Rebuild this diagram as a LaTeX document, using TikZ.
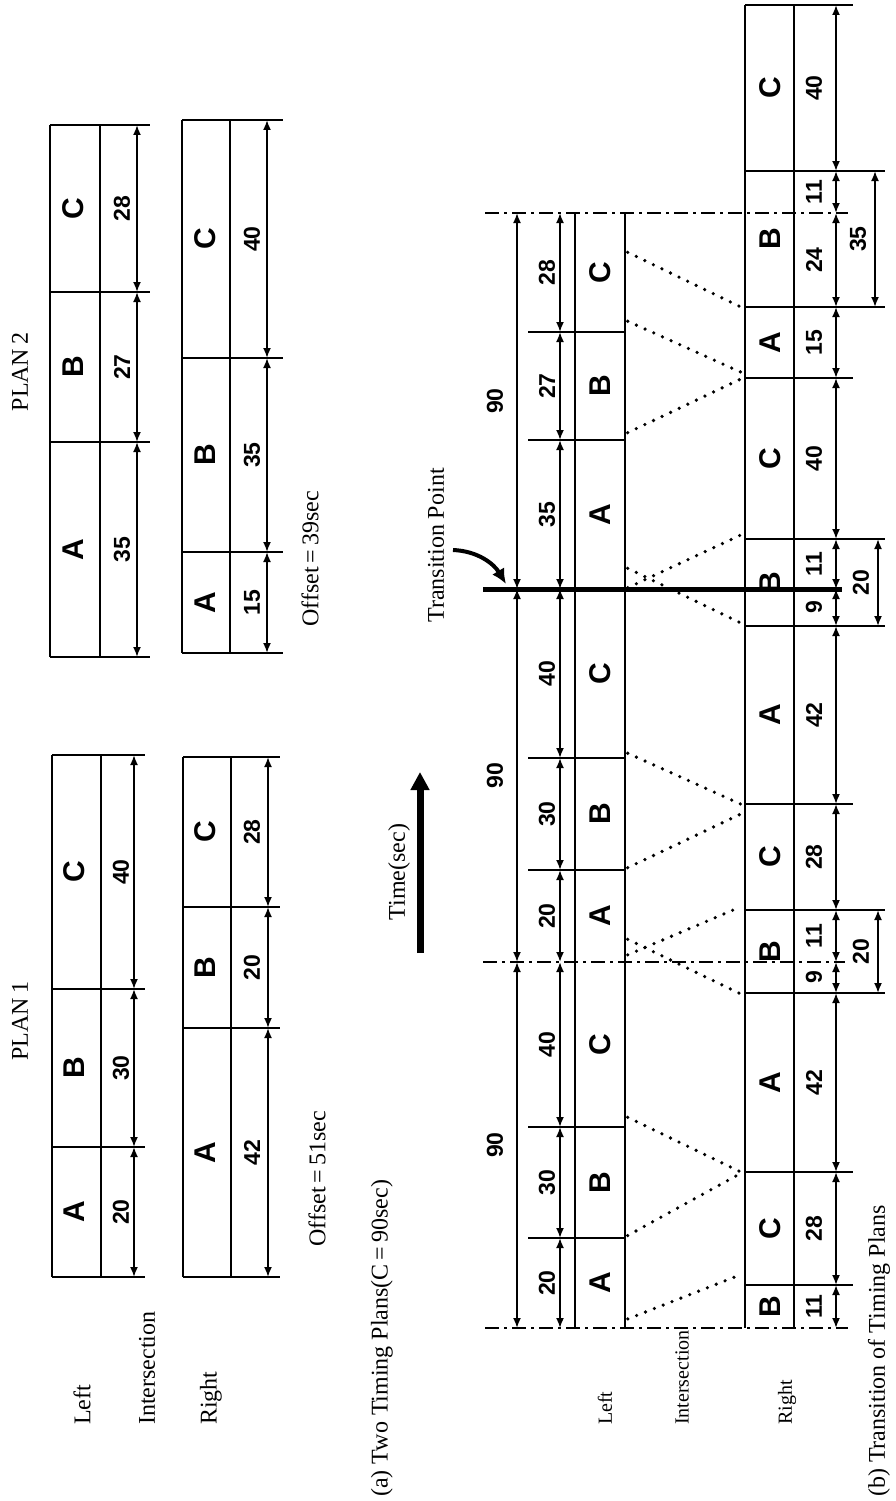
\documentclass[tikz,border=0pt]{standalone}
\usepackage{fontspec}
\setmainfont{Liberation Serif}
\setsansfont{Liberation Sans}
\usetikzlibrary{arrows.meta, positioning}

\begin{document}
\begin{tikzpicture}[x=1pt, y=1pt,
    barline/.style={line width=2.2pt},
    dimline/.style={line width=1.8pt, {Latex[length=10pt,width=8pt]}-{Latex[length=10pt,width=8pt]}},
    phase/.style={rotate=90, inner sep=0pt, font=\sffamily\bfseries\fontsize{30}{32}\selectfont},
    secs/.style={rotate=90, inner sep=0pt, font=\sffamily\bfseries\fontsize{23}{25}\selectfont},
    note/.style={rotate=90, inner sep=0pt, font=\fontsize{24}{26}\selectfont},
    smallnote/.style={note, font=\fontsize{20}{22}\selectfont},
    cycleline/.style={line width=2.5pt, dash pattern=on 14pt off 5pt on 3pt off 5pt},
    offsetline/.style={line width=3.6pt, line cap=round, dash pattern=on 0pt off 9.5pt, shorten <=3pt, shorten >=5pt}]

    \useasboundingbox (0,0) rectangle (896,-1501);

    % (a) two timing plans
    \node [note] (plantwo) at (20,-372) {PLAN\,2};
    \node [note] (planone) at (20,-1021) {PLAN\,1};

    % plan 2, left
    \draw [barline] (50,-125) -- (50,-657) (100,-125) -- (100,-657);
    \foreach \y in {125,292,442,657} \draw [barline] (50,-\y) -- (150,-\y);
    \foreach \a/\b/\ph/\s [count=\i] in {125/292/C/28, 292/442/B/27, 442/657/A/35} {
        \draw [dimline] (137,-\a) -- (137,-\b);
        \node [phase] (twoL\i) at (73,{-(\a+\b)/2}) {\ph};
        \node [secs] (twoLs\i) at (122,{-(\a+\b)/2}) {\s};
    }
    % plan 2, right
    \draw [barline] (182,-120) -- (182,-653) (230,-120) -- (230,-653);
    \foreach \y in {120,358,552,653} \draw [barline] (182,-\y) -- (283,-\y);
    \foreach \a/\b/\ph/\s [count=\i] in {120/358/C/40, 358/552/B/35, 552/653/A/15} {
        \draw [dimline] (267,-\a) -- (267,-\b);
        \node [phase] (twoR\i) at (205,{-(\a+\b)/2}) {\ph};
        \node [secs] (twoRs\i) at (252,{-(\a+\b)/2}) {\s};
    }
    % plan 1, left
    \draw [barline] (52,-755) -- (52,-1277) (101,-755) -- (101,-1277);
    \foreach \y in {755,989,1147,1277} \draw [barline] (52,-\y) -- (145,-\y);
    \foreach \a/\b/\ph/\s [count=\i] in {755/989/C/40, 989/1147/B/30, 1147/1277/A/20} {
        \draw [dimline] (134,-\a) -- (134,-\b);
        \node [phase] (oneL\i) at (74,{-(\a+\b)/2}) {\ph};
        \node [secs] (oneLs\i) at (121,{-(\a+\b)/2}) {\s};
    }
    % plan 1, right
    \draw [barline] (183,-757) -- (183,-1277) (231,-757) -- (231,-1277);
    \foreach \y in {757,907,1028,1277} \draw [barline] (183,-\y) -- (280,-\y);
    \foreach \a/\b/\ph/\s [count=\i] in {757/907/C/28, 907/1028/B/20, 1028/1277/A/42} {
        \draw [dimline] (268,-\a) -- (268,-\b);
        \node [phase] (oneR\i) at (205,{-(\a+\b)/2}) {\ph};
        \node [secs] (oneRs\i) at (252,{-(\a+\b)/2}) {\s};
    }

    \node [note, anchor=west] (aleft) at (82,-1425) {Left};
    \node [note, anchor=west] (ainter) at (147,-1425) {Intersection};
    \node [note, anchor=west] (aright) at (211,-1425) {Right};
    \node [note, anchor=west] (offtwo) at (310,-627) {Offset\,=\,39sec};
    \node [note, anchor=west] (offone) at (317,-1247) {Offset\,=\,51sec};
    \node [note, anchor=west] (capa) at (382,-1497) {(a) Two Timing Plans(C\,=\,90sec)};

    % time arrow and transition point
    \node [note] (time) at (399,-872) {Time(sec)};
    \coordinate (tfrom) at (420,-953);
    \coordinate (tto) at (420,-772);
    \draw [line width=7pt, -{Triangle[length=18pt,width=18pt]}] (tfrom) -- (tto);
    \node [note, anchor=west] (trans) at (436,-623) {Transition Point};
    \coordinate (cfrom) at (453,-550);
    \coordinate (cto) at (506,-584);
    \draw [line width=4pt, -{Latex[length=15pt,width=14pt]}] (cfrom) .. controls (478,-551) and (494,-564) .. (cto);

    % (b) transition of timing plans
    \draw [cycleline] (485,-1328) -- (848,-1328);
    \draw [cycleline] (483,-962) -- (845,-962);
    \draw [cycleline] (485,-213) -- (848,-213);
    \draw [line width=5pt] (483,-589) -- (842,-589);

    % left intersection
    \draw [barline] (575,-213) -- (575,-1328) (625,-213) -- (625,-1328);
    \foreach \y in {1238,1127,870,758,440,332} \draw [barline] (528,-\y) -- (625,-\y);
    \foreach \a/\b/\ph/\s [count=\i] in {1238/1328/A/20, 1127/1238/B/30, 962/1127/C/40,
        870/962/A/20, 758/870/B/30, 589/758/C/40, 440/589/A/35, 332/440/B/27, 213/332/C/28} {
        \draw [dimline] (560,-\a) -- (560,-\b);
        \node [phase] (bL\i) at (600,{-(\a+\b)/2}) {\ph};
        \node [secs] (bLs\i) at (547,{-(\a+\b)/2}) {\s};
    }
    \foreach \a/\b [count=\i] in {962/1328, 589/962, 213/589} {
        \draw [dimline] (517,-\a) -- (517,-\b);
        \node [secs] (cyc\i) at (495,{-(\a+\b)/2}) {90};
    }

    % right intersection
    \draw [barline] (745,-5) -- (745,-1328) (794,-5) -- (794,-1328);
    \foreach \y in {5,378,804,1172,1285} \draw [barline] (745,-\y) -- (853,-\y);
    \foreach \y in {171,307,539,626,910,993} \draw [barline] (745,-\y) -- (885,-\y);
    \foreach \a/\b/\ph [count=\i] in {1285/1328/B, 1172/1285/C, 993/1172/A, 910/993/B,
        804/910/C, 626/804/A, 539/626/B, 378/539/C, 307/378/A, 171/307/B, 5/171/C}
        \node [phase] (bR\i) at (770,{-(\a+\b)/2}) {\ph};
    \foreach \a/\b/\s [count=\i] in {1285/1328/11, 1172/1285/28, 993/1172/42, 962/993/9,
        910/962/11, 804/910/28, 626/804/42, 589/626/9, 539/589/11, 378/539/40,
        307/378/15, 213/307/24, 171/213/11, 5/171/40} {
        \draw [dimline] (836,-\a) -- (836,-\b);
        \node [secs] (bRs\i) at (814,{-(\a+\b)/2}) {\s};
    }
    \foreach \a/\b/\x/\s [count=\i] in {910/993/878/20, 539/626/878/20, 171/307/875/35} {
        \draw [dimline] (\x,-\a) -- (\x,-\b);
        \node [secs] (brk\i) at ({\x-17},{-(\a+\b)/2}) {\s};
    }

    % offset links across the intersection
    \foreach \l/\r in {1320/1273, 1237/1171, 1116/1174, 956/905, 938/996, 869/812,
        752/806, 589/533, 567/625, 434/377, 320/374, 251/309}
        \draw [offsetline] (625,-\l) -- (745,-\r);

    \node [smallnote, anchor=west] (bleft) at (605,-1425) {Left};
    \node [smallnote, anchor=west] (binter) at (682,-1425) {Intersection};
    \node [smallnote, anchor=west] (bright) at (787,-1425) {Right};
    \node [note, anchor=west] (capb) at (879,-1497) {(b) Transition of Timing Plans};
\end{tikzpicture}
\end{document}
